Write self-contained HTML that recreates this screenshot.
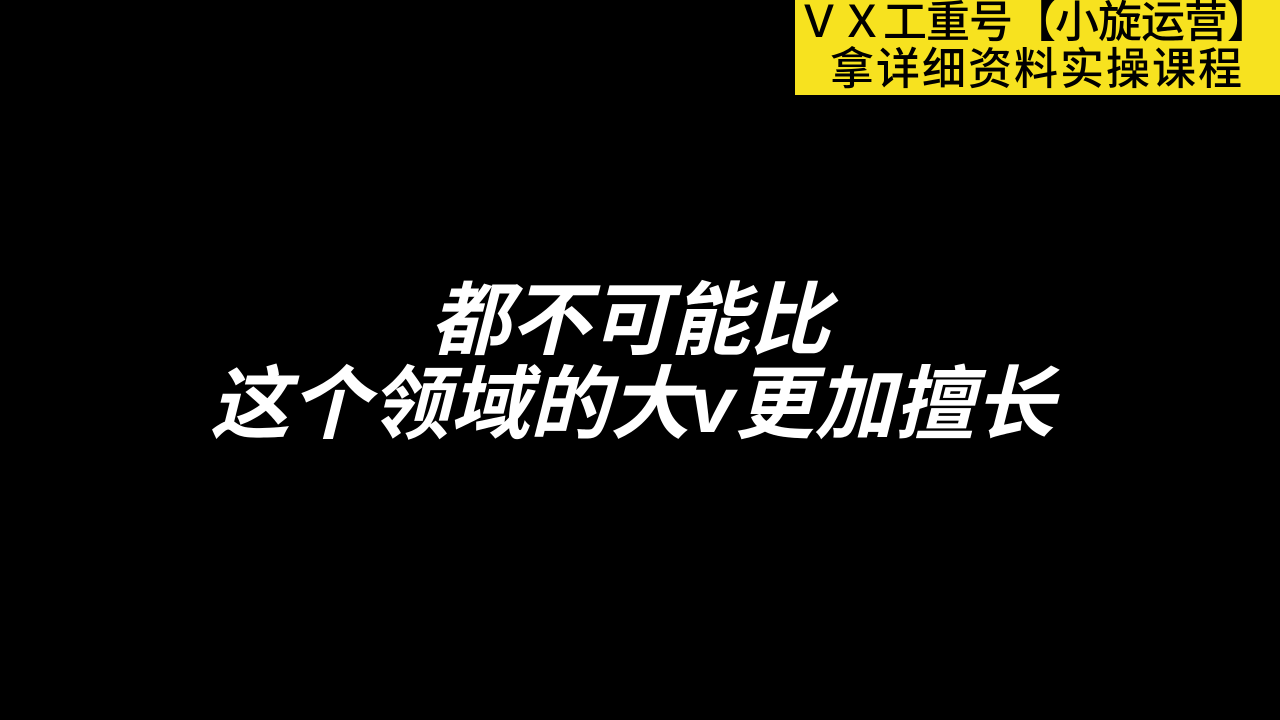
<!DOCTYPE html>
<html><head><meta charset="utf-8"><style>
html,body{margin:0;padding:0;width:1280px;height:720px;background:#000;overflow:hidden}
.banner{position:absolute;left:795px;top:0;width:485px;height:95px;background:#f7e21f;font-family:"Liberation Sans","Noto Sans CJK SC",sans-serif;color:#000;font-weight:500}
.b1{position:absolute;left:2px;top:-2px;font-size:44px;line-height:50px;white-space:nowrap;letter-spacing:-1px}
.b2{position:absolute;left:35px;top:45px;font-size:44px;line-height:50px;white-space:nowrap;letter-spacing:2px}
.cap{position:absolute;left:-6px;width:1280px;text-align:center;color:#fff;font-family:"Liberation Sans","Noto Sans CJK SC",sans-serif;font-weight:700;font-size:80px;line-height:86px;font-style:italic;white-space:nowrap}
</style></head><body>
<div class="banner">
<div class="b1">ＶＸ工重号【小旋运营】</div>
<div class="b2">拿详细资料实操课程</div>
</div>
<div class="cap" style="top:278px;left:-10px">都不可能比</div>
<div class="cap" style="top:362px;left:-8px">这个领域的大v更加擅长</div>
</body></html>
